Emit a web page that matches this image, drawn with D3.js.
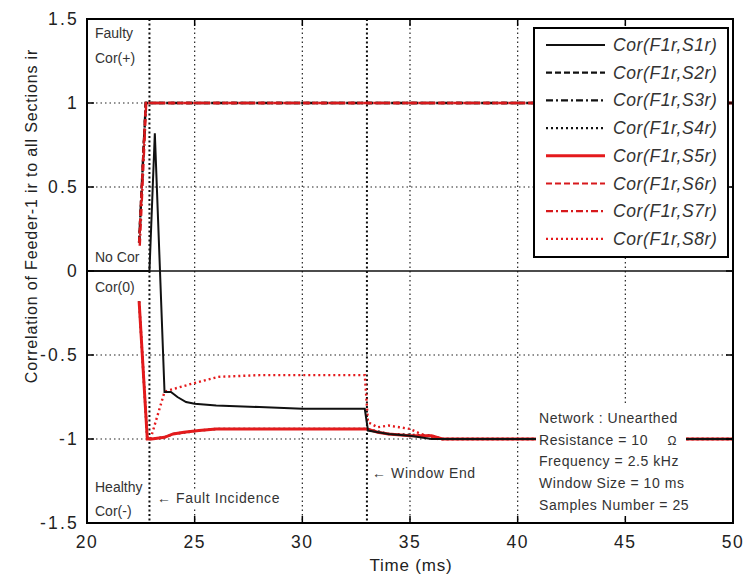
<!DOCTYPE html>
<html><head><meta charset="utf-8">
<script src="https://cdn.jsdelivr.net/npm/d3@7"></script>
<style>body{margin:0;background:#fff}svg{display:block}text{font-family:"Liberation Sans",Arial,sans-serif}</style>
</head><body>
<svg id="c" width="744" height="576"></svg>
<script>
// ---- data ----
const xTicks = [20,25,30,35,40,45,50];
const yTicks = [-1.5,-1,-0.5,0,0.5,1,1.5];
const yTickLabels = ["-1.5","-1","-0.5","0","0.5","1","1.5"];
const seriesNames = ["Cor(F1r,S1r)","Cor(F1r,S2r)","Cor(F1r,S3r)","Cor(F1r,S4r)","Cor(F1r,S5r)","Cor(F1r,S6r)","Cor(F1r,S7r)","Cor(F1r,S8r)"];
const seriesColors = ["#111","#111","#111","#111","#e41a1c","#d7191c","#d7191c","#e41a1c"];
const seriesDash = ["none","6,3","7,3,2,3","2,3","none","6,3","7,3,2,3","2,3"];

const tS1 = [20, 22.9, 23.15, 23.6, 23.9, 24.2, 24.6, 25.0, 26, 28, 30, 32.9, 33.05, 34, 35, 36, 50];
const yS1 = [0, 0, 0.82, -0.72, -0.72, -0.75, -0.78, -0.79, -0.80, -0.81, -0.82, -0.82, -0.95, -0.97, -0.98, -1.0, -1.0];
const tS2 = [22.42, 22.73, 50];
const yS2 = [0.17, 1.0, 1.0];
const tS3 = [22.42, 22.73, 50];
const yS3 = [0.17, 1.0, 1.0];
const tS4 = [22.42, 22.8, 23.0, 23.6, 24.0, 25.2, 26, 33.0, 34, 36, 36.5, 50];
const yS4 = [-0.18, -1.0, -1.0, -0.99, -0.97, -0.95, -0.94, -0.94, -0.97, -0.98, -1.0, -1.0];
const tS5 = [22.42, 22.8, 23.0, 23.6, 24.0, 24.5, 25.2, 26, 28, 30, 33.0, 33.5, 34, 35, 36, 36.5, 50];
const yS5 = [-0.18, -1.0, -1.0, -0.99, -0.97, -0.96, -0.95, -0.94, -0.94, -0.94, -0.94, -0.96, -0.97, -0.98, -0.98, -1.0, -1.0];
const tS6 = [22.42, 22.73, 50];
const yS6 = [0.17, 1.0, 1.0];
const tS7 = [22.45, 22.75, 50];
const yS7 = [0.15, 1.0, 1.0];
const tS8 = [22.95, 23.6, 23.8, 24.9, 26.1, 28, 30, 32.9, 33.05, 33.5, 34, 34.5, 35, 35.5, 36.3, 50];
const yS8 = [-1.0, -0.72, -0.71, -0.67, -0.63, -0.62, -0.62, -0.62, -0.90, -0.93, -0.92, -0.93, -0.94, -0.97, -1.0, -1.0];

const faultTime = 22.9, windowEnd = 33;
const infoLines = ["Network : Unearthed","Resistance = 10","Frequency = 2.5 kHz","Window  Size = 10 ms","Samples Number = 25"];

// ---- layout ----
const svg = d3.select("#c");
const L = 87, R = 733, T = 19, B = 523;
const x = d3.scaleLinear().domain([20,50]).range([L,R]);
const y = d3.scaleLinear().domain([-1.5,1.5]).range([B,T]);

// grid
const grid = svg.append("g").attr("stroke","#222").attr("stroke-width",1.2).attr("stroke-dasharray","1.5,3");
xTicks.slice(1,-1).forEach(v=>grid.append("line").attr("x1",x(v)).attr("x2",x(v)).attr("y1",T).attr("y2",B));
yTicks.slice(1,-1).filter(v=>v!==0).forEach(v=>grid.append("line").attr("x1",L).attr("x2",R).attr("y1",y(v)).attr("y2",y(v)));
// event markers
[faultTime, windowEnd].forEach(v=>svg.append("line").attr("x1",x(v)).attr("x2",x(v)).attr("y1",T).attr("y2",B)
  .attr("stroke","#111").attr("stroke-width",2).attr("stroke-dasharray","2,2.5"));
// zero line
svg.append("line").attr("x1",L).attr("x2",R).attr("y1",y(0)).attr("y2",y(0)).attr("stroke","#111").attr("stroke-width",1.6);

// series
const series = [[tS1,yS1],[tS2,yS2],[tS3,yS3],[tS4,yS4],[tS5,yS5],[tS6,yS6],[tS7,yS7],[tS8,yS8]];
const line = d3.line().x(d=>x(d[0])).y(d=>y(d[1]));
const drawOrder = [3,1,2,4,7,0,6,5];
drawOrder.forEach(i=>{
  const pts = series[i][0].map((t,j)=>[t, series[i][1][j]]);
  svg.append("path").attr("d",line(pts)).attr("fill","none")
    .attr("stroke",seriesColors[i]).attr("stroke-width", i===4?3:(i===0?2:2.4))
    .attr("stroke-dasharray",seriesDash[i]);
});

// annotation text with white background
const ann = svg.append("g").attr("fill","#333").attr("font-size",14);
function label(tx,ty,str,bg,ls){
  const t = ann.append("text").attr("x",tx).attr("y",ty).text(str).attr("letter-spacing",ls||0);
  if(bg){const b=t.node().getBBox();
    ann.insert("rect","text").attr("x",b.x-2).attr("y",b.y-1).attr("width",b.width+4).attr("height",b.height+2).attr("fill","#fff");}
  return t;
}
label(95,38,"Faulty");
label(95,63,"Cor(+)");
label(95,262,"No Cor");
label(95,292,"Cor(0)");
label(95,492,"Healthy");
label(95,516,"Cor(-)");
label(157,503,"\u2190 Fault Incidence",true,0.6);
label(372,478,"\u2190  Window  End",true,0.6);
// info box
ann.append("rect").attr("x",536).attr("y",404).attr("width",150).attr("height",112).attr("fill","#fff");
infoLines.forEach((s,i)=>ann.append("text").attr("x",539).attr("y",423+i*21.7).text(s).attr("letter-spacing",0.55));
ann.append("text").attr("x",672).attr("y",423+21.7).attr("text-anchor","middle").attr("font-size",12).text("\u03A9");

// frame
svg.append("rect").attr("x",L).attr("y",T).attr("width",R-L).attr("height",B-T).attr("fill","none").attr("stroke","#000").attr("stroke-width",2);
// ticks inward
const tk = svg.append("g").attr("stroke","#000").attr("stroke-width",1.5);
xTicks.forEach(v=>{tk.append("line").attr("x1",x(v)).attr("x2",x(v)).attr("y1",B).attr("y2",B-7);
  tk.append("line").attr("x1",x(v)).attr("x2",x(v)).attr("y1",T).attr("y2",T+7);});
yTicks.forEach(v=>{tk.append("line").attr("x1",L).attr("x2",L+7).attr("y1",y(v)).attr("y2",y(v));
  tk.append("line").attr("x1",R).attr("x2",R-7).attr("y1",y(v)).attr("y2",y(v));});

// tick labels
const tl = svg.append("g").attr("fill","#222").attr("font-size",17.5);
xTicks.forEach(v=>tl.append("text").attr("x",x(v)).attr("y",548).attr("text-anchor","middle").text(v).attr("letter-spacing",1.5));
yTicks.forEach((v,i)=>tl.append("text").attr("x",79).attr("y",y(v)+6).attr("text-anchor","end").text(yTickLabels[i]).attr("letter-spacing",2.2));
// axis titles
svg.append("text").attr("x",411).attr("y",571).attr("text-anchor","middle").attr("font-size",17).attr("fill","#222").text("Time (ms)").attr("letter-spacing",0.8);
svg.append("text").attr("transform","translate(37,216) rotate(-90)").attr("text-anchor","middle").attr("font-size",16).attr("fill","#222")
  .text("Correlation of Feeder-1 ir to all Sections ir").attr("letter-spacing",0.85);

// legend
const lg = svg.append("g");
lg.append("rect").attr("x",534).attr("y",28).attr("width",194).attr("height",229).attr("fill","#fff").attr("stroke","#000").attr("stroke-width",2);
seriesNames.forEach((n,i)=>{
  const cy = 45 + i*27.7;
  lg.append("line").attr("x1",546).attr("x2",605).attr("y1",cy).attr("y2",cy)
    .attr("stroke",seriesColors[i]).attr("stroke-width",i===4?3:2.2).attr("stroke-dasharray",seriesDash[i]);
  lg.append("text").attr("x",613).attr("y",cy+6).attr("font-size",17.5).attr("font-style","italic").attr("fill","#333").attr("letter-spacing",0.6).text(n);
});
</script>
</body></html>
